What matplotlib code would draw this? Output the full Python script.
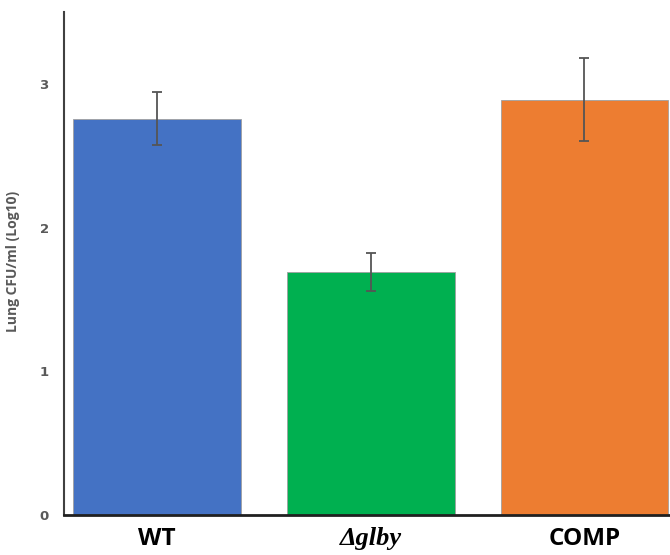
import numpy as np
import matplotlib.pyplot as plt

# group names and log10 lung CFU values
groups = ['WT', '\u0394glby', 'COMP']
means = [2.76, 1.69, 2.89]
errs = [0.187, 0.133, 0.288]
colors = ['#4472c4', '#00b050', '#ed7d31']

fig = plt.figure(figsize=(6.7, 5.55), dpi=100)
ax = fig.add_axes([0.0955, 0.072, 0.9045, 0.906])

x = np.arange(len(groups))
ax.bar(x, means, width=0.785, color=colors, edgecolor='#a0a0a0', linewidth=0.6)
ax.errorbar(x, means, yerr=errs, fmt='none', ecolor='#555555', elinewidth=1.3,
            capsize=3.5, capthick=1.3)

ax.set_xlim(-0.435, 2.40)
ax.set_ylim(0, 3.5)
ax.set_yticks([0, 1, 2, 3])
ax.tick_params(axis='y', length=0, pad=11, labelsize=9.5, labelcolor='#595959')
for t in ax.get_yticklabels():
    t.set_fontweight('bold')
ax.set_xticks(x)
ax.set_xticklabels([])
ax.tick_params(axis='x', length=0)

for xi, g in zip(x, groups):
    if xi == 1:
        ax.text(xi, -0.165, g, fontsize=19, fontfamily='Liberation Serif',
                style='italic', fontweight='bold', ha='center', va='center')
    else:
        ax.text(xi, -0.165, g, fontsize=17.5, fontfamily='Open Sans', fontweight='bold',
                ha='center', va='center')

ax.set_ylabel('Lung CFU/ml (Log10)', fontsize=10, fontweight='bold', color='#595959',
              fontfamily='Open Sans')
ax.yaxis.set_label_coords(-0.072, 0.505)

ax.spines['top'].set_visible(False)
ax.spines['right'].set_visible(False)
ax.spines['left'].set_color('#404040')
ax.spines['left'].set_linewidth(1.5)
ax.spines['bottom'].set_color('#202020')
ax.spines['bottom'].set_linewidth(2)

fig.savefig('out.png', dpi=100)
